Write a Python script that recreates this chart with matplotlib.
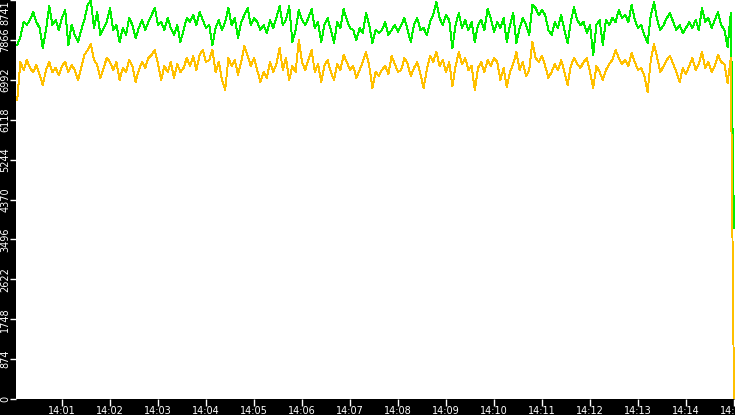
import numpy as np
import matplotlib
matplotlib.use("Agg")
from matplotlib import pyplot as plt

# seconds after 14:00:00, one sample every 4 s
seconds = np.arange(4, 904, 4)

green = [
    7756, 7931, 8259, 8194, 8303, 8478, 8259, 8128, 7690, 8084, 8610, 8194, 8303, 8084, 8347,
    8522, 7756, 8194, 7975, 7821, 8084, 8303, 8632, 8735, 8128, 8478, 7975, 8128, 8259, 8566,
    8084, 8194, 7821, 8128, 7975, 8347, 8194, 7909, 8128, 8303, 8084, 8259, 8412, 8566, 8194,
    8259, 8084, 8347, 8128, 7975, 8194, 7821, 8084, 8347, 8259, 8412, 8194, 8478, 8303, 8128,
    8194, 7756, 8128, 8303, 8084, 8259, 8566, 8194, 8347, 7909, 8259, 8412, 8566, 8194, 8347,
    8259, 8084, 8194, 8018, 8303, 8128, 8347, 8610, 8194, 8303, 8610, 7821, 8084, 8522, 8303,
    8194, 8347, 8544, 8128, 8259, 7821, 8194, 8347, 8084, 7799, 8259, 8128, 8544, 8303, 8128,
    8084, 7865, 8128, 8018, 8456, 8194, 7799, 8084, 8018, 8084, 8259, 7975, 8084, 8194, 8040,
    8194, 8347, 8084, 7821, 8194, 8347, 8084, 8128, 7975, 8259, 8412, 8697, 8347, 8194, 8412,
    8303, 7690, 8194, 8456, 8128, 8303, 8084, 8259, 7821, 8194, 8303, 8084, 8544, 8347, 8040,
    8259, 8128, 8347, 7821, 8194, 8456, 7799, 8128, 8347, 8194, 7975, 8632, 8566, 8412, 8522,
    8412, 8084, 7975, 8259, 8128, 8412, 8084, 7799, 8259, 8588, 8303, 8194, 8259, 8018, 8194,
    7537, 8194, 8303, 7756, 8303, 8194, 8347, 8259, 8522, 8347, 8412, 8259, 8632, 8303, 8128,
    8194, 7975, 7799, 8412, 8697, 8303, 8084, 8194, 8347, 8456, 8259, 8084, 8194, 8018, 8128,
    8259, 8128, 8303, 8084, 8566, 8259, 8347, 8128, 8303, 8478, 8194, 8084, 7712, 8456, 3750,
]

yellow = [
    6551, 7383, 7208, 7427, 7252, 7164, 7318, 7099, 6880, 7208, 7383, 7164, 7252, 7099, 7296,
    7383, 7164, 7318, 7208, 6989, 7252, 7537, 7646, 7777, 7427, 7318, 7033, 7252, 7471, 7383,
    7208, 7383, 6989, 7252, 7164, 7427, 7296, 6945, 7208, 7383, 7252, 7471, 7537, 7646, 7340,
    6989, 7296, 7164, 7383, 7033, 7340, 7164, 7252, 7471, 7296, 7515, 7208, 7537, 7646, 7383,
    7427, 7646, 7164, 7383, 6989, 6770, 7471, 7296, 7427, 7099, 7383, 7734, 7515, 7296, 7471,
    7208, 6945, 7164, 7033, 7383, 7164, 7340, 7690, 7208, 7471, 6989, 7296, 7164, 7865, 7383,
    7208, 7427, 7646, 7164, 7340, 6945, 7296, 7427, 7164, 6989, 7340, 7208, 7537, 7383, 7208,
    7296, 7033, 7208, 7383, 7602, 7296, 6814, 7164, 7077, 7208, 7296, 7120, 7515, 7340, 7164,
    7208, 7471, 7340, 7077, 7252, 7383, 7120, 6814, 7208, 7515, 7383, 7602, 7296, 7427, 7164,
    7383, 6858, 7296, 7602, 7340, 7471, 7208, 7296, 6770, 7252, 7383, 7164, 7427, 7296, 7471,
    7383, 6989, 7252, 6836, 7164, 7340, 7602, 7208, 7383, 7077, 7208, 7821, 7471, 7383, 7515,
    7296, 7033, 7164, 7340, 7208, 7427, 7164, 6880, 7296, 7471, 7340, 7252, 7383, 7471, 7164,
    6814, 7296, 7164, 6989, 7208, 7340, 7427, 7646, 7471, 7340, 7427, 7296, 7580, 7383, 7208,
    7252, 7077, 6726, 7427, 7777, 7471, 7164, 7296, 7427, 7515, 7340, 7164, 6945, 7252, 7120,
    7296, 7471, 7208, 7340, 7602, 7252, 7383, 7164, 7296, 7537, 7383, 7340, 6924, 7471, 0,
]

y_ticks = [0, 874, 1748, 2622, 3496, 4370, 5244, 6118, 6992, 7866, 8741]
x_ticks = [60 * m for m in range(1, 16)]
x_labels = ["14:%02d" % m for m in range(1, 16)]

fig = plt.figure(figsize=(7.35, 4.15), dpi=100, facecolor="black")
ax = fig.add_axes([16 / 735, 16 / 415, 719 / 735, 399 / 415])
ax.set_facecolor("white")

ax.plot(seconds, green, color="#00ee00", lw=0.7, antialiased=False)
ax.plot(seconds, yellow, color="#ffc000", lw=0.7, antialiased=False)

ax.set_xlim(2.5, 901.25)
ax.set_ylim(0, 8741)

for s in ax.spines.values():
    s.set_visible(False)

ax.set_xticks(x_ticks)
ax.set_xticklabels(x_labels)
ax.set_yticks(y_ticks)
ax.set_yticklabels([str(v) for v in y_ticks], rotation=90, va="center")
ax.get_yticklabels()[-1].set_va("top")

ax.tick_params(axis="x", colors="white", labelsize=7, length=5, width=1,
               direction="out", pad=0)
ax.tick_params(axis="y", colors="white", labelsize=7, length=4, width=1,
               direction="out", pad=0)

fig.savefig("out.png", dpi=100, facecolor="black")
